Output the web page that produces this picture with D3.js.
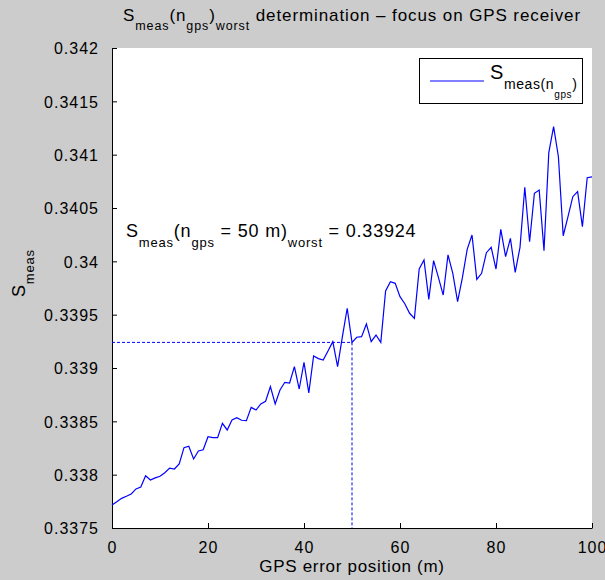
<!DOCTYPE html>
<html>
<head>
<meta charset="utf-8">
<script src="https://cdn.jsdelivr.net/npm/d3@7"></script>
<style>
  html, body { margin: 0; padding: 0; background: #cccccc; }
  svg { display: block; }
  text { font-family: "Liberation Sans", Arial, Helvetica, sans-serif; fill: #000; }
</style>
</head>
<body>
<svg id="chart" width="605" height="580"></svg>
<script>
// ---- data ----
const gpsError = [0,1,2,3,4,5,6,7,8,9,10,11,12,13,14,15,16,17,18,19,20,21,22,23,24,25,26,27,28,29,30,31,32,33,34,35,36,37,38,39,40,41,42,43,44,45,46,47,48,49,50,51,52,53,54,55,56,57,58,59,60,61,62,63,64,65,66,67,68,69,70,71,72,73,74,75,76,77,78,79,80,81,82,83,84,85,86,87,88,89,90,91,92,93,94,95,96,97,98,99,100];
const sMeas = [
  0.337716,0.337747,0.337778,0.337797,0.337819,0.337866,0.337884,0.337990,0.337950,0.337970,
  0.337985,0.338018,0.338062,0.338053,0.338100,0.338253,0.338266,0.338147,0.338222,0.338234,
  0.338356,0.338348,0.338347,0.338481,0.338419,0.338513,0.338534,0.338510,0.338506,0.338631,
  0.338606,0.338663,0.338688,0.338825,0.338663,0.338794,0.338866,0.338859,0.339013,0.338803,
  0.339053,0.338766,0.339113,0.339088,0.339075,0.339159,0.339247,0.339013,0.339294,0.339560,
  0.339240,0.339288,0.339294,0.339413,0.339247,0.339309,0.339240,0.339722,0.339809,0.339794,
  0.339669,0.339602,0.339513,0.339466,0.339928,0.340013,0.339644,0.340006,0.339850,0.339684,
  0.340060,0.339888,0.339622,0.339847,0.340113,0.340247,0.339831,0.339888,0.340081,0.340131,
  0.339928,0.340300,0.340044,0.340216,0.339897,0.340131,0.340694,0.340184,0.340638,0.340669,
  0.340100,0.341019,0.341263,0.340981,0.340240,0.340419,0.340606,0.340653,0.340325,0.340784,
  0.340791];
const xTicks = [0, 20, 40, 60, 80, 100];
const yTicks = [0.3375, 0.338, 0.3385, 0.339, 0.3395, 0.34, 0.3405, 0.341, 0.3415, 0.342];
const yTickLabels = ["0.3375","0.338","0.3385","0.339","0.3395","0.34","0.3405","0.341","0.3415","0.342"];
const worstX = 50;
const worstY = 0.33924;
const worstLabel = "0.33924";

// ---- layout ----
const svg = d3.select("#chart");
const L = 112, T = 48, W = 480, H = 480;
const x = d3.scaleLinear().domain([0, 100]).range([L, L + W]);
const y = d3.scaleLinear().domain([0.3375, 0.342]).range([T + H, T]);
const blue = "#0000ff";

svg.append("rect").attr("x", 0).attr("y", 0).attr("width", 605).attr("height", 580).attr("fill", "#cccccc");
svg.append("rect").attr("x", L).attr("y", T).attr("width", W).attr("height", H).attr("fill", "#ffffff");

// axes
const xAxis = d3.axisBottom(x).tickValues(xTicks).tickSizeInner(-5).tickSizeOuter(0).tickPadding(14).tickFormat(d3.format("d"));
const yAxis = d3.axisLeft(y).tickValues(yTicks).tickSizeInner(-5).tickSizeOuter(0).tickPadding(13)
  .tickFormat((d, i) => yTickLabels[i]);

const gx = svg.append("g").attr("transform", `translate(0,${T + H})`).call(xAxis);
const gy = svg.append("g").attr("transform", `translate(${L},0)`).call(yAxis);
[gx, gy].forEach(g => {
  g.select(".domain").attr("stroke", "#000").attr("stroke-width", 1);
  g.selectAll(".tick line").attr("stroke", "#000").attr("stroke-width", 1);
  g.selectAll(".tick text").attr("font-size", 16).attr("letter-spacing", "1px")
    .attr("font-family", '"Liberation Sans", Arial, sans-serif').attr("fill", "#000");
});
gy.selectAll(".tick text").attr("dy", "0.36em");

// dashed guide lines
svg.append("line")
  .attr("x1", x(0)).attr("x2", x(worstX)).attr("y1", y(worstY)).attr("y2", y(worstY))
  .attr("stroke", blue).attr("stroke-width", 1).attr("stroke-dasharray", "3,2");
svg.append("line")
  .attr("x1", x(worstX)).attr("x2", x(worstX)).attr("y1", y(worstY)).attr("y2", y(0.3375))
  .attr("stroke", blue).attr("stroke-width", 1).attr("stroke-dasharray", "3,2");

// main line
const line = d3.line().x((d, i) => x(gpsError[i])).y(d => y(d));
svg.append("path").datum(sMeas).attr("d", line)
  .attr("fill", "none").attr("stroke", blue).attr("stroke-width", 1.2).attr("stroke-linejoin", "miter");

// helper for rich text: parts = [[text, level]] level 0 normal, 1 sub, 2 subsub
function rich(g, parts, sizes, offs) {
  let cur = 0;
  parts.forEach(([t, lvl]) => {
    const dy = offs[lvl] - offs[cur];
    g.append("tspan").attr("font-size", sizes[lvl]).attr("dy", dy).text(t);
    cur = lvl;
  });
}

// title
const title = svg.append("text").attr("x", 352).attr("y", 21).attr("text-anchor", "middle").attr("letter-spacing", "0.9px");
rich(title, [["S",0],["meas",1],["(n",0],["gps",1],[")",0],["worst",1],[" determination \u2013 focus on GPS receiver",0]],
  [17, 12.5], [0, 9]);

// x label
svg.append("text").attr("x", 352).attr("y", 572).attr("text-anchor", "middle").attr("font-size", 17)
  .attr("letter-spacing", "0.7px").text("GPS error position (m)");

// y label
const ylab = svg.append("text").attr("transform", "translate(25,297) rotate(-90)").attr("text-anchor", "start").attr("letter-spacing", "0.8px");
rich(ylab, [["S",0],["meas",1]], [18, 13], [0, 9]);

// annotation
const ann = svg.append("text").attr("x", 126).attr("y", 237).attr("letter-spacing", "0.8px");
rich(ann, [["S",0],["meas",1],["(n",0],["gps",1],[" = 50 m)",0],["worst",1],[" = " + worstLabel,0]],
  [18, 13], [0, 10]);

// legend
const lg = svg.append("g");
lg.append("rect").attr("x", 419.5).attr("y", 58.5).attr("width", 163).attr("height", 45)
  .attr("fill", "#fff").attr("stroke", "#000").attr("stroke-width", 1);
lg.append("line").attr("x1", 430).attr("x2", 484).attr("y1", 81).attr("y2", 81).attr("stroke", blue).attr("stroke-width", 1.2);
const lt = lg.append("text").attr("x", 490).attr("y", 79).attr("letter-spacing", "0.6px");
rich(lt, [["S",0],["meas(n",1],["gps",2],[")",1]], [20, 14, 10], [0, 10, 19]);
</script>
</body>
</html>
